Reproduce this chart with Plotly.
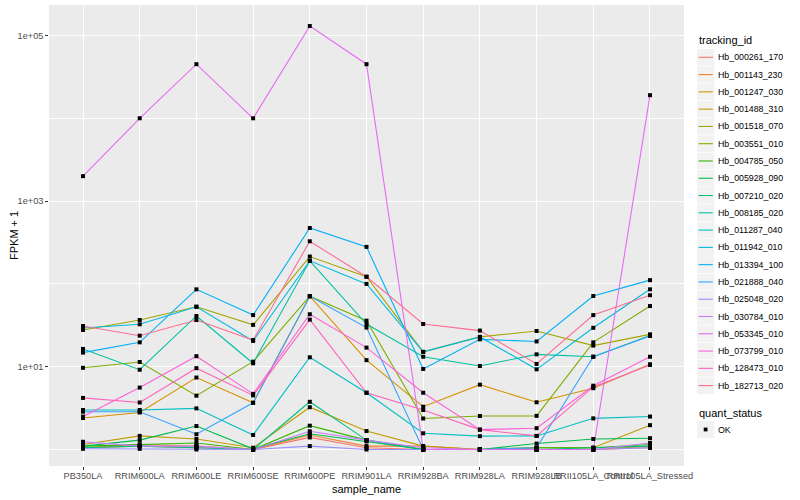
import plotly.graph_objects as go

samples = ["PB350LA", "RRIM600LA", "RRIM600LE", "RRIM600SE", "RRIM600PE", "RRIM901LA",
           "RRIM928BA", "RRIM928LA", "RRIM928LB", "RRII105LA_Control", "RRII105LA_Stressed"]

tracking_ids = ["Hb_000261_170", "Hb_001143_230", "Hb_001247_030", "Hb_001488_310",
                "Hb_001518_070", "Hb_003551_010", "Hb_004785_050", "Hb_005928_090",
                "Hb_007210_020", "Hb_008185_020", "Hb_011287_040", "Hb_011942_010",
                "Hb_013394_100", "Hb_021888_040", "Hb_025048_020", "Hb_030784_010",
                "Hb_053345_010", "Hb_073799_010", "Hb_128473_010", "Hb_182713_020"]

colors = ["#F8766D", "#EA8331", "#D89000", "#C09B00", "#A3A500", "#7CAE00", "#39B600",
          "#00BB4E", "#00BF7D", "#00C1A3", "#00BFC4", "#00BAE0", "#00B0F6", "#35A2FF",
          "#9590FF", "#C77CFF", "#E76BF3", "#FA62DB", "#FF62BC", "#FF6C91"]

# FPKM + 1 values, one list per tracking_id, in sample order
hb_000261_170 = [1.05, 1.1, 1.05, 1.0, 1.4, 1.05, 1.0, 1.0, 1.0, 1.0, 1.05]
hb_001143_230 = [1.05, 1.15, 1.1, 1.0, 1.5, 1.1, 1.1, 1.0, 1.0, 1.0, 1.1]
hb_001247_030 = [2.4, 2.8, 7.4, 3.67, 71, 12, 3.29, 6.07, 3.72, 5.5, 10.7]
hb_001488_310 = [1.15, 1.46, 1.34, 1.05, 3.24, 1.67, 1.1, 1.0, 1.05, 1.05, 1.97]
hb_001518_070 = [27.8, 36.6, 53, 32, 214, 122, 15.1, 22.9, 27, 18, 24.6]
hb_003551_010 = [9.7, 11.4, 4.47, 11.5, 71, 36, 2.37, 2.54, 2.55, 19.7, 54]
hb_004785_050 = [1.1, 1.15, 1.2, 1.0, 1.94, 1.3, 1.0, 1.0, 1.05, 1.05, 1.15]
hb_005928_090 = [1.1, 1.3, 1.92, 1.02, 1.55, 1.25, 1.0, 1.0, 1.18, 1.34, 1.37]
hb_007210_020 = [1.05, 1.1, 1.05, 1.0, 3.77, 1.3, 1.0, 1.0, 1.0, 1.05, 1.1]
hb_008185_020 = [16.4, 9.2, 41, 11, 190, 32.7, 13.2, 10.2, 14.1, 13.2, 23.8]
hb_011287_040 = [3.0, 3.0, 3.14, 1.5, 13, 4.85, 1.57, 1.45, 1.46, 2.38, 2.5]
hb_011942_010 = [29.4, 32.5, 53, 20.5, 190, 100, 15.1, 22.9, 9.3, 29.5, 86]
hb_013394_100 = [14.8, 19.7, 86, 42, 473, 280, 9.4, 21.4, 20.2, 71.5, 111]
hb_021888_040 = [2.86, 2.86, 1.53, 3.67, 71, 29.7, 1.0, 1.0, 1.05, 13.2, 23.5]
hb_025048_020 = [1.02, 1.02, 1.0, 1.0, 1.1, 1.0, 1.0, 1.0, 1.0, 1.0, 1.05]
hb_030784_010 = [1.24, 1.1, 1.1, 1.0, 1.66, 1.3, 1.05, 1.0, 1.0, 1.0, 1.2]
hb_053345_010 = [2000, 10000, 45000, 10000, 130000, 45000, 1.0, 1.0, 1.0, 1.0, 19000]
hb_073799_010 = [2.5, 5.6, 13.4, 4.7, 43, 17, 4.85, 1.74, 1.81, 5.9, 13.2]
hb_128473_010 = [4.2, 3.7, 9.6, 4.5, 37, 4.85, 3.0, 1.74, 1.46, 5.7, 10.5]
hb_182713_020 = [31, 23.7, 36.6, 21, 327, 122, 32.8, 27.3, 10.8, 42, 73]

series = [hb_000261_170, hb_001143_230, hb_001247_030, hb_001488_310, hb_001518_070,
          hb_003551_010, hb_004785_050, hb_005928_090, hb_007210_020, hb_008185_020,
          hb_011287_040, hb_011942_010, hb_013394_100, hb_021888_040, hb_025048_020,
          hb_030784_010, hb_053345_010, hb_073799_010, hb_128473_010, hb_182713_020]

y_tickvals = [10, 1000, 100000]
y_ticktext = ["1e+01", "1e+03", "1e+05"]
y_minorvals = [1, 100, 10000]

FONT = "Liberation Sans, Arial, Helvetica, sans-serif"
W, H = 800, 500
ML, MR, MT, MB = 49, 116, 5, 34
PW, PH = W - ML - MR, H - MT - MB

fig = go.Figure()

for name, col, vals in zip(tracking_ids, colors, series):
    fig.add_trace(go.Scatter(x=samples, y=vals, mode="lines", name=name,
                             line=dict(color=col, width=1.1), showlegend=False))
for name, vals in zip(tracking_ids, series):
    fig.add_trace(go.Scatter(x=samples, y=vals, mode="markers", name=name + " OK",
                             marker=dict(color="black", size=4, symbol="square"),
                             showlegend=False))

def xp(px):
    return (px - ML) / PW

def yp(py):
    return (H - MB - py) / PH

shapes = []
annotations = []

# legend: tracking_id
annotations.append(dict(x=xp(697), y=yp(40.5), xref="paper", yref="paper", text="tracking_id",
                        showarrow=False, xanchor="left", yanchor="middle",
                        font=dict(family=FONT, size=11, color="black")))
step = 17.28
y0 = 57.3
for i, (name, col) in enumerate(zip(tracking_ids, colors)):
    cy = y0 + i * step
    shapes.append(dict(type="rect", xref="paper", yref="paper",
                       x0=xp(697), x1=xp(714.3), y0=yp(cy - step / 2 + 0.3), y1=yp(cy + step / 2 - 0.3),
                       fillcolor="#F2F2F2", line=dict(width=0), layer="above"))
    shapes.append(dict(type="line", xref="paper", yref="paper",
                       x0=xp(698.5), x1=xp(712.8), y0=yp(cy), y1=yp(cy),
                       line=dict(color=col, width=1.1), layer="above"))
    annotations.append(dict(x=xp(716.5), y=yp(cy), xref="paper", yref="paper", text=name,
                            showarrow=False, xanchor="left", yanchor="middle",
                            font=dict(family=FONT, size=8.8, color="black")))

# legend: quant_status
annotations.append(dict(x=xp(697), y=yp(412.5), xref="paper", yref="paper", text="quant_status",
                        showarrow=False, xanchor="left", yanchor="middle",
                        font=dict(family=FONT, size=11, color="black")))
cy = 429.5
shapes.append(dict(type="rect", xref="paper", yref="paper",
                   x0=xp(697), x1=xp(714.3), y0=yp(cy - 8.5), y1=yp(cy + 8.5),
                   fillcolor="#F2F2F2", line=dict(width=0), layer="above"))
shapes.append(dict(type="rect", xref="paper", yref="paper",
                   x0=xp(703.7), x1=xp(707.5), y0=yp(cy - 1.9), y1=yp(cy + 1.9),
                   fillcolor="black", line=dict(width=0), layer="above"))
annotations.append(dict(x=xp(716.5), y=yp(cy), xref="paper", yref="paper", text="OK",
                        showarrow=False, xanchor="left", yanchor="middle",
                        font=dict(family=FONT, size=8.8, color="black")))

# axis titles
annotations.append(dict(x=0.5, y=yp(489), xref="paper", yref="paper", text="sample_name",
                        showarrow=False, xanchor="center", yanchor="middle",
                        font=dict(family=FONT, size=11, color="black")))
annotations.append(dict(x=xp(14), y=yp(236), xref="paper", yref="paper", text="FPKM + 1",
                        showarrow=False, xanchor="center", yanchor="middle", textangle=-90,
                        font=dict(family=FONT, size=11, color="black")))

fig.update_layout(
    width=W, height=H,
    margin=dict(l=ML, r=MR, t=MT, b=MB, pad=0),
    paper_bgcolor="white", plot_bgcolor="#EBEBEB",
    font=dict(family=FONT, size=9, color="#4D4D4D"),
    showlegend=False,
    shapes=shapes, annotations=annotations,
    xaxis=dict(type="category", categoryorder="array", categoryarray=samples,
               range=[-0.6, len(samples) - 0.4], showgrid=True, gridcolor="white", gridwidth=1.1,
               zeroline=False, showline=False, ticks="outside", ticklen=2.75, tickwidth=1,
               tickcolor="#333333", tickangle=0, tickmode="array", tickvals=samples,
               ticklabelstandoff=-2,
               tickfont=dict(family=FONT, size=9.2, color="#4D4D4D")),
    yaxis=dict(type="log", range=[-0.199, 5.368], tickmode="array", tickvals=y_tickvals,
               ticktext=y_ticktext, showgrid=True, gridcolor="white", gridwidth=1.1,
               zeroline=False, showline=False, ticks="outside", ticklen=2.75, tickwidth=1,
               tickcolor="#333333",
               tickfont=dict(family=FONT, size=9.2, color="#4D4D4D"),
               minor=dict(tickmode="array", tickvals=y_minorvals, showgrid=True,
                          gridcolor="white", gridwidth=0.55, ticks="")),
)

fig.write_html("out.html", config={"displayModeBar": False},
               post_script="document.body.style.margin='0px';document.body.style.overflow='hidden';")
